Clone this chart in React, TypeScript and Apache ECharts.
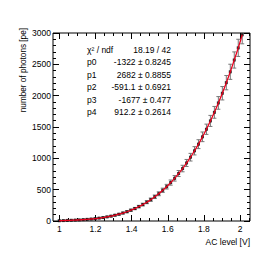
import React, { useEffect, useRef } from "react";
import * as echarts from "echarts";

const acLevel = [
  1.0, 1.022, 1.044, 1.066, 1.088, 1.11, 1.132, 1.154, 1.176, 1.198,
  1.22, 1.242, 1.264, 1.286, 1.308, 1.33, 1.352, 1.374, 1.396, 1.418,
  1.44, 1.462, 1.484, 1.506, 1.528, 1.55, 1.572, 1.594, 1.616, 1.638,
  1.66, 1.682, 1.704, 1.726, 1.748, 1.77, 1.792, 1.814, 1.836, 1.858,
  1.88, 1.902, 1.924, 1.946, 1.968, 1.99, 2.012,
];
const photons = [
  4.3, 6.5, 9.3, 11.7, 14.9, 17.8, 22.0, 26.2, 31.9, 38.1,
  46.1, 54.7, 65.6, 77.5, 92.3, 108.1, 127.4, 147.8, 172.6, 198.7,
  229.6, 262.1, 300.3, 340.2, 386.4, 434.6, 489.9, 547.6, 612.9, 681.0,
  757.6, 837.1, 925.9, 1018.0, 1120.4, 1226.2, 1343.3, 1464.1, 1597.2, 1734.0,
  1884.3, 2038.7, 2207.4, 2380.8, 2569.1, 2762.9, 2972.3,
];
const photonErrors = [
  6, 6, 6, 6.5, 6.5, 7, 7, 7.5, 8, 8.5,
  9, 9.5, 10, 11, 12, 13, 14, 15, 16, 18,
  20, 22, 24, 26, 28, 31, 34, 37, 41, 44,
  48, 52, 56, 61, 66, 71, 77, 82, 88, 94,
  101, 107, 114, 121, 129, 137, 145,
];

const xMajorTicks = [1, 1.2, 1.4, 1.6, 1.8, 2];
const xMinorTicks = [
  1.05, 1.1, 1.15, 1.25, 1.3, 1.35, 1.45, 1.5, 1.55, 1.65, 1.7, 1.75,
  1.85, 1.9, 1.95, 2.05,
];
const yMajorTicks = [0, 500, 1000, 1500, 2000, 2500, 3000];
const yMinorTicks = [
  100, 200, 300, 400, 600, 700, 800, 900, 1100, 1200, 1300, 1400,
  1600, 1700, 1800, 1900, 2100, 2200, 2300, 2400, 2600, 2700, 2800, 2900,
];

const statNames = ["\u03C7\u00B2 / ndf", "p0", "p1", "p2", "p3", "p4"];
const statValues = [
  "18.19 / 42",
  "-1322 \u00B1 0.8245",
  "2682 \u00B1 0.8855",
  "-591.1 \u00B1 0.6921",
  "-1677 \u00B1 0.477",
  "912.2 \u00B1 0.2614",
];

const FONT = "Liberation Sans, Arial, Helvetica, sans-serif";
const X_MIN = 0.965;
const X_MAX = 2.055;

export default function App() {
  const ref = useRef<HTMLDivElement>(null);
  useEffect(() => {
    if (!ref.current) return;
    const chart = echarts.init(ref.current, undefined, { renderer: "svg" });

    const fmt = (v: number) => String(Math.round(v * 1000) / 1000);

    const axisCommon = (values: number[], len: number, labels: boolean, margin: number) => ({
      axisLine: { show: false, onZero: false },
      splitLine: { show: false },
      axisTick: {
        show: true,
        inside: true,
        length: len,
        customValues: values,
        lineStyle: { color: "#000", width: 1 },
      },
      axisLabel: labels
        ? {
            show: true,
            customValues: values,
            formatter: fmt,
            fontSize: 8.5,
            fontFamily: FONT,
            color: "#000",
            margin,
          }
        : { show: false },
    });

    const xAxisBase = (position: string, values: number[], len: number, labels: boolean) => ({
      type: "value",
      position,
      min: X_MIN,
      max: X_MAX,
      ...axisCommon(values, len, labels, 3),
    });
    const yAxisBase = (position: string, values: number[], len: number, labels: boolean) => ({
      type: "value",
      position,
      min: 0,
      max: 3000,
      ...axisCommon(values, len, labels, 2),
    });

    const errData = acLevel.map((x, i) => [x, photons[i], photonErrors[i]]);

    const statTexts: any[] = [];
    statNames.forEach((n, i) => {
      const y = 50 + i * 12.4;
      statTexts.push({
        type: "text",
        x: 87,
        y,
        style: {
          text: n,
          fontSize: 8.5,
          fontFamily: FONT,
          fill: "#000",
          textAlign: "left",
          textVerticalAlign: "middle",
        },
      });
      statTexts.push({
        type: "text",
        x: 171,
        y,
        style: {
          text: statValues[i],
          fontSize: 8.5,
          fontFamily: FONT,
          fill: "#000",
          textAlign: "right",
          textVerticalAlign: "middle",
        },
      });
    });

    chart.setOption({
      animation: false,
      backgroundColor: "#fff",
      grid: {
        left: 53,
        top: 33,
        width: 197,
        height: 188,
        show: true,
        borderColor: "#000",
        borderWidth: 1,
        backgroundColor: "transparent",
      },
      xAxis: [
        xAxisBase("bottom", xMajorTicks, 6, true),
        xAxisBase("bottom", xMinorTicks, 3, false),
        xAxisBase("top", xMajorTicks, 6, false),
        xAxisBase("top", xMinorTicks, 3, false),
      ],
      yAxis: [
        yAxisBase("left", yMajorTicks, 6, true),
        yAxisBase("left", yMinorTicks, 3, false),
        yAxisBase("right", yMajorTicks, 6, false),
        yAxisBase("right", yMinorTicks, 3, false),
      ],
      graphic: [
        {
          type: "text",
          x: 23,
          y: 28,
          rotation: Math.PI / 2,
          style: {
            text: "number of photons [pe]",
            fontSize: 8.2,
            fontFamily: FONT,
            fill: "#000",
            textAlign: "right",
            textVerticalAlign: "middle",
          },
        },
        {
          type: "text",
          x: 250,
          y: 242,
          style: {
            text: "AC level [V]",
            fontSize: 8.5,
            fontFamily: FONT,
            fill: "#000",
            textAlign: "right",
            textVerticalAlign: "middle",
          },
        },
        ...statTexts,
      ],
      series: [
        {
          type: "custom",
          xAxisIndex: 0,
          yAxisIndex: 0,
          clip: true,
          data: errData,
          renderItem: (params: any, api: any) => {
            const x = api.value(0);
            const y = api.value(1);
            const e = api.value(2);
            const lo = api.coord([x, y - e]);
            const hi = api.coord([x, y + e]);
            const cap = 2;
            const style = { stroke: "#777", lineWidth: 1 };
            return {
              type: "group",
              children: [
                { type: "line", shape: { x1: lo[0], y1: lo[1], x2: hi[0], y2: hi[1] }, style },
                { type: "line", shape: { x1: lo[0] - cap, y1: lo[1], x2: lo[0] + cap, y2: lo[1] }, style },
                { type: "line", shape: { x1: hi[0] - cap, y1: hi[1], x2: hi[0] + cap, y2: hi[1] }, style },
              ],
            };
          },
          z: 2,
        },
        {
          type: "scatter",
          xAxisIndex: 0,
          yAxisIndex: 0,
          data: acLevel.map((x, i) => [x, photons[i]]),
          symbol: "rect",
          symbolSize: 3,
          itemStyle: { color: "#000" },
          z: 3,
        },
        {
          type: "line",
          xAxisIndex: 0,
          yAxisIndex: 0,
          data: acLevel.map((x, i) => [x, photons[i]]),
          smooth: true,
          showSymbol: false,
          lineStyle: { color: "#e8001c", width: 1.3 },
          z: 4,
        },
      ],
    });
    return () => chart.dispose();
  }, []);
  return (
    <div
      ref={ref}
      style={{ position: "fixed", left: 0, top: 0, width: 269, height: 261 }}
    />
  );
}
